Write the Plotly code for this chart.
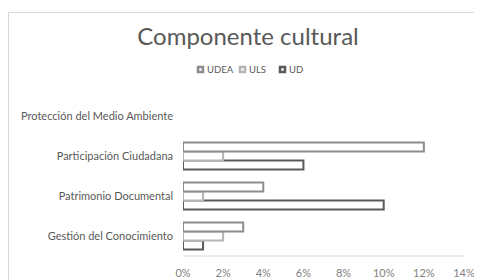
import plotly.graph_objects as go

categories = ["Gestión del Conocimiento", "Patrimonio Documental",
              "Participación Ciudadana", "Protección del Medio Ambiente"]
udea = [3, 4, 12, 0]
uls = [2, 1, 2, 0]
ud = [1, 10, 6, 0]
series_names = ["UDEA", "ULS", "UD"]
tick_vals = [0, 2, 4, 6, 8, 10, 12, 14]
tick_text = ["0%", "2%", "4%", "6%", "8%", "10%", "12%", "14%"]

colors = {"UDEA": "#8c8c8c", "ULS": "#b5b5b5", "UD": "#5a5a5a"}
values = {"UDEA": udea, "ULS": uls, "UD": ud}

# page body has an 8px margin; work in screenshot pixels and shift
OFF = 8
W, H = 482 - OFF, 280 - OFF
PLOT_LEFT, PLOT_RIGHT, PLOT_TOP, PLOT_BOTTOM = 183, 464, 96, 256
L, R = PLOT_LEFT - OFF, W - (PLOT_RIGHT - OFF)
T, B = PLOT_TOP - OFF, H - (PLOT_BOTTOM - OFF)
PW, PH = W - L - R, H - T - B


def px_x(px):
    return (px - OFF - L) / PW


def px_y(py):
    return (H - B - (py - OFF)) / PH


fig = go.Figure()
# add in reverse so UDEA sits at top of each group
for name in reversed(series_names):
    fig.add_trace(go.Bar(
        y=categories, x=[v if v else None for v in values[name]], name=name,
        orientation="h", showlegend=False,
        marker=dict(color="white", line=dict(color=colors[name], width=2)),
    ))

font_family = "Lato, 'Open Sans', sans-serif"
fig.update_layout(
    width=W, height=H,
    paper_bgcolor="white", plot_bgcolor="white",
    margin=dict(l=L, r=R, t=T, b=B, autoexpand=False),
    barmode="group", bargap=0.32, bargroupgap=0.0,
    title=dict(text="Componente cultural", x=(248 - OFF) / W, xref="container",
               y=1 - (37 - OFF) / H, yref="container", yanchor="middle", xanchor="center",
               font=dict(family=font_family, size=24, color="#595959")),
    font=dict(family=font_family, color="#595959"),
    xaxis=dict(range=[0, 14], tickvals=tick_vals, ticktext=tick_text,
               showgrid=False, zeroline=False, showline=False, automargin=False,
               tickfont=dict(size=11, color="#808080"), ticks="", ticklabelstandoff=9),
    yaxis=dict(categoryorder="array", categoryarray=categories, automargin=False,
               showgrid=False, zeroline=False, showline=False,
               tickfont=dict(size=11, color="#595959"), ticks="", ticklabelstandoff=9),
)
# axis baseline
fig.add_shape(type="line", xref="paper", yref="paper", x0=0, x1=1, y0=0, y1=0,
              line=dict(color="#d9d9d9", width=1))
# outer chart frame (left and top edges)
fig.add_shape(type="line", xref="paper", yref="paper",
              x0=px_x(8.5), x1=px_x(8.5), y0=px_y(300), y1=px_y(12.5),
              line=dict(color="#d9d9d9", width=1))
fig.add_shape(type="line", xref="paper", yref="paper",
              x0=px_x(8.5), x1=px_x(500), y0=px_y(12.5), y1=px_y(12.5),
              line=dict(color="#d9d9d9", width=1))

# compact legend (Excel style): small hollow squares followed by names
legend_x = {"UDEA": 197, "ULS": 239, "UD": 279}
legend_y = 69.5
for name in series_names:
    x0 = legend_x[name]
    fig.add_shape(type="rect", xref="paper", yref="paper",
                  x0=px_x(x0 + 1), x1=px_x(x0 + 6), y0=px_y(legend_y + 2.5), y1=px_y(legend_y - 2.5),
                  line=dict(color=colors[name], width=2.5), fillcolor="white")
    fig.add_annotation(text=name, xref="paper", yref="paper", x=px_x(x0 + 7.5), y=px_y(legend_y),
                       xanchor="left", yanchor="middle", showarrow=False,
                       font=dict(family=font_family, size=9.5, color="#595959"))

fig.write_html("out.html")
